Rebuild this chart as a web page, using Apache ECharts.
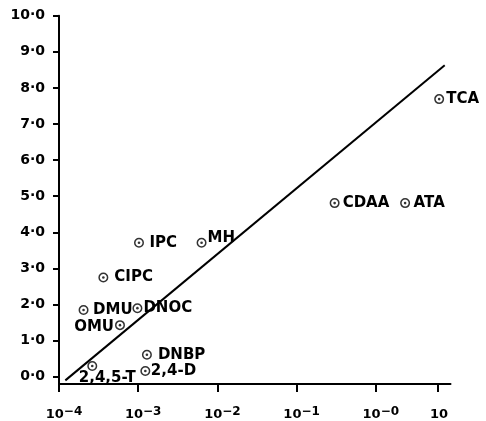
<!DOCTYPE html>
<html>
<head>
<meta charset="utf-8">
<script src="https://cdn.jsdelivr.net/npm/echarts@6/dist/echarts.min.js"></script>
<style>
  html, body { margin: 0; padding: 0; background: #ffffff; }
  #chart { width: 486px; height: 421px; }
</style>
</head>
<body>
<div id="chart"></div>
<script>
// Herbicides: log10 of concentration vs. activity
const compounds = ['IPC', 'MH', 'CIPC', 'DMU', 'DNOC', 'OMU', 'DNBP', '2,4-D', '2,4,5-T', 'CDAA', 'ATA', 'TCA'];
const logConc   = [-2.99, -2.20, -3.44, -3.69, -3.01, -3.23, -2.89, -2.91, -3.58, -0.52, 0.37, 0.80];
const activity  = [3.71, 3.71, 2.75, 1.85, 1.90, 1.43, 0.61, 0.16, 0.30, 4.81, 4.81, 7.69];

// Fitted straight line (two end points)
const fitLogConc  = [-3.92, 0.87];
const fitActivity = [-0.10, 8.63];

// Axis ticks
const xTickValues = [-4, -3, -2, -1, 0, 0.78];
const xTickLabels = ['10^−4', '10^−3', '10^−2', '10^−1', '10^−0', '10'];
const yTickValues = [0, 1, 2, 3, 4, 5, 6, 7, 8, 9, 10];
const yTickLabels = ['0·0', '1·0', '2·0', '3·0', '4·0', '5·0', '6·0', '7·0', '8·0', '9·0', '10·0'];

// Which side of its marker each compound's name sits on
const labelSide = {
  'IPC':     { position: 'right', distance: 5.5 },
  'MH':      { position: 'right', distance: 1 },
  'CIPC':    { position: 'right', distance: 6 },
  'DMU':     { position: 'right', distance: 4.5 },
  'DNOC':    { position: 'right', distance: 1 },
  'OMU':     { position: 'left',  distance: 1 },
  'DNBP':    { position: 'right', distance: 6 },
  '2,4-D':   { position: 'right', distance: 0.5 },
  '2,4,5-T': { position: 'inside' },
  'CDAA':    { position: 'right', distance: 3 },
  'ATA':     { position: 'right', distance: 3.5 },
  'TCA':     { position: 'right', distance: 2 }
};
// Extra nudges (px) for names that are not centred beside their marker
const labelNudge = {
  'MH': [0, -5],
  'OMU': [0, 2],
  '2,4,5-T': [15, 12]
};

const FONT = 'DejaVu Sans';
const INK = '#000000';

const pointData = compounds.map((name, i) => ({
  name: name,
  value: [logConc[i], activity[i]],
  label: Object.assign({ show: true }, labelSide[name])
}));
const dotData = compounds.map((name, i) => [logConc[i], activity[i]]);
const fitData = fitLogConc.map((x, i) => [x, fitActivity[i]]);

const chart = echarts.init(document.getElementById('chart'), null, { renderer: 'canvas' });

chart.setOption({
  backgroundColor: '#ffffff',
  animation: false,
  grid: { left: 59, right: 35.5, top: 15.7, bottom: 35, containLabel: false },
  xAxis: {
    type: 'value',
    min: -4,
    max: 0.943,
    splitLine: { show: false },
    axisLine: { show: true, onZero: false, lineStyle: { color: INK, width: 2 } },
    axisTick: { show: true, length: 8, customValues: xTickValues, lineStyle: { color: INK, width: 2 } },
    axisLabel: {
      show: true,
      margin: 15,
      padding: [0, 0, 0, 10],
      customValues: xTickValues,
      formatter: function (v) {
        let idx = 0, best = Infinity;
        xTickValues.forEach((t, i) => { const d = Math.abs(t - v); if (d < best) { best = d; idx = i; } });
        const parts = xTickLabels[idx].split('^');
        return parts.length > 1
          ? '{b|' + parts[0] + '}{s|' + parts[1] + '}'
          : '{p|' + parts[0] + '}';
      },
      rich: {
        b: { fontFamily: FONT, fontWeight: 'bold', fontSize: 13, color: INK, lineHeight: 22, verticalAlign: 'bottom' },
        p: { fontFamily: FONT, fontWeight: 'bold', fontSize: 13, color: INK, lineHeight: 22, verticalAlign: 'bottom', padding: [0, 7, 0, 0] },
        s: { fontFamily: FONT, fontWeight: 'bold', fontSize: 12, color: INK, lineHeight: 13, verticalAlign: 'top', padding: [7, 0, 0, 0] }
      }
    }
  },
  yAxis: {
    type: 'value',
    min: -0.2,
    max: 10,
    splitLine: { show: false },
    axisLine: { show: true, onZero: false, lineStyle: { color: INK, width: 2 } },
    axisTick: { show: true, length: 6, customValues: yTickValues, lineStyle: { color: INK, width: 2 } },
    axisLabel: {
      show: true,
      margin: 14,
      customValues: yTickValues,
      fontFamily: FONT,
      fontWeight: 'bold',
      fontSize: 14,
      color: INK,
      formatter: function (v) {
        const idx = yTickValues.indexOf(Math.round(v));
        return idx >= 0 ? yTickLabels[idx] : '';
      }
    }
  },
  series: [
    {
      type: 'line',
      data: fitData,
      symbol: 'none',
      silent: true,
      lineStyle: { color: INK, width: 2 },
      z: 1
    },
    {
      type: 'scatter',
      data: pointData,
      symbol: 'circle',
      symbolSize: 8.5,
      itemStyle: { color: 'rgba(255,255,255,0)', borderColor: INK, borderWidth: 1.5 },
      label: {
        fontFamily: FONT,
        fontWeight: 'bold',
        fontSize: 15,
        color: INK,
        opacity: 1,
        textBorderWidth: 0,
        formatter: '{b}'
      },
      labelLayout: function (params) {
        const nudge = labelNudge[compounds[params.dataIndex]];
        return nudge ? { dx: nudge[0], dy: nudge[1], hideOverlap: false } : { hideOverlap: false };
      },
      z: 3
    },
    {
      type: 'scatter',
      data: dotData,
      symbol: 'circle',
      symbolSize: 2.6,
      silent: true,
      itemStyle: { color: INK },
      z: 4
    }
  ]
});
</script>
</body>
</html>
